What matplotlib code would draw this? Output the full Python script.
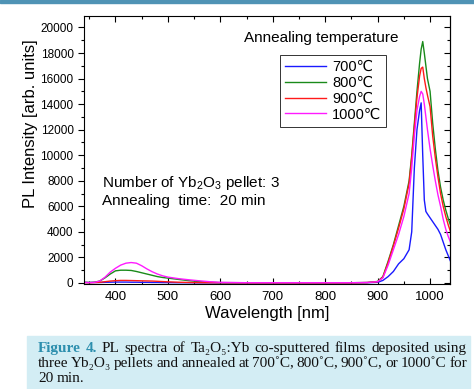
import matplotlib
matplotlib.use("Agg")
import matplotlib.pyplot as plt
from matplotlib.patches import Rectangle
from matplotlib.ticker import MultipleLocator

# wavelength grid (nm)
wavelength = [340, 350, 360, 370, 380, 390, 400, 410, 420, 430, 440, 450, 460, 470, 480, 490, 500,
              520, 540, 560, 580, 600,
              650, 700, 750, 800, 850, 880,
              900, 910, 920, 930, 940, 950, 960,
              965, 970, 975, 980, 983, 986, 989, 992, 995,
              1000, 1005, 1010, 1015, 1020, 1025, 1030, 1035, 1040]

pl_700 = [40, 30, 40, 40, 50, 60, 70, 70, 70, 60, 60, 50, 50, 40, 40, 30, 30,
          20, 20, 10, 10, 10,
          10, 10, 10, 10, 10, 20,
          50, 200, 500, 900, 1500, 1900, 2600,
          4000, 9000, 12000, 13500, 14100, 10000, 6500, 5600, 5400,
          5100, 4800, 4500, 4200, 3800, 3200, 2600, 2100, 1600]
pl_800 = [60, 40, 60, 150, 400, 700, 950, 1000, 1000, 980, 900, 800, 700, 600, 500, 430, 380,
          280, 180, 110, 60, 30,
          20, 20, 20, 20, 20, 40,
          120, 500, 1700, 3000, 4500, 6000, 8000,
          10000, 12500, 15000, 17200, 18300, 18900, 18000, 17000, 16000,
          15000, 12500, 10500, 8800, 7500, 6500, 5700, 5000, 4400]
pl_900 = [30, 20, 30, 50, 100, 150, 180, 200, 200, 190, 180, 170, 160, 150, 130, 110, 90,
          60, 40, 30, 20, 20,
          10, 10, 10, 10, 10, 30,
          100, 450, 1600, 2900, 4300, 5800, 7800,
          9800, 12200, 14500, 16200, 16800, 16900, 16000, 15300, 14700,
          13800, 11500, 9800, 8300, 7000, 6000, 5200, 4500, 3900]
pl_1000 = [50, 30, 50, 150, 450, 850, 1150, 1400, 1550, 1600, 1550, 1350, 1100, 880, 700, 560, 460,
           340, 250, 170, 100, 50,
           20, 20, 20, 20, 20, 40,
           100, 400, 1400, 2600, 3800, 5200, 7000,
           9000, 11500, 13500, 14600, 15000, 14800, 14000, 13000, 12000,
           10500, 9200, 8000, 6900, 6000, 5000, 4200, 3600, 3100]

series = [pl_700, pl_800, pl_900, pl_1000]
labels = ["700\u2103", "800\u2103", "900\u2103", "1000\u2103"]
colors = ["#1a1aff", "#1a8a1a", "#ff1a1a", "#ff1aff"]

caption_lines = [
    ["PL", "spectra", "of", "Ta\u2082O\u2085:Yb", "co-sputtered", "films", "deposited", "using"],
    ["three", "Yb\u2082O\u2083", "pellets", "and", "annealed", "at", "700\u02daC,", "800\u02daC,",
     "900\u02daC,", "or", "1000\u02daC", "for"],
    ["20", "min."],
]

plt.rcParams["font.family"] = ["Liberation Sans", "DejaVu Sans"]
plt.rcParams["mathtext.fontset"] = "custom"
plt.rcParams["mathtext.rm"] = "Liberation Sans"
plt.rcParams["mathtext.it"] = "Liberation Sans:italic"


def place_words(fig, renderer, words, x0, x1, y, justify=True):
    # put words on one line, stretching the gaps so the line fills x0..x1
    texts = []
    for w, kw in words:
        texts.append(fig.text(0, y, w, va="baseline", **kw))
    widths = [t.get_window_extent(renderer).width / fig.bbox.width for t in texts]
    if justify and len(texts) > 1:
        gap = (x1 - x0 - sum(widths)) / (len(texts) - 1)
    else:
        gap = 3 / fig.bbox.width
    x = x0
    for t, w in zip(texts, widths):
        t.set_x(x)
        x += w + gap


def main():
    fig = plt.figure(figsize=(4.74, 3.89), dpi=100)
    W, H = 474, 389

    # blue strip at the top of the page
    fig.patches.append(Rectangle((0, 1 - 2.5 / H), 1, 2.5 / H, transform=fig.transFigure,
                                 color="#4f93b5", zorder=0))
    # caption background
    fig.patches.append(Rectangle((27 / W, 0), 443 / W, 53 / H, transform=fig.transFigure,
                                 color="#d3edf4", zorder=0))

    ax = fig.add_axes([84 / W, 1 - 284 / H, 366 / W, 268 / H])
    for vals, lab, c in zip(series, labels, colors):
        ax.plot(wavelength, vals, color=c, lw=1.0, label=lab)

    ax.set_xlim(340, 1038)
    ax.set_ylim(-80, 20900)
    ax.xaxis.set_major_locator(MultipleLocator(100))
    ax.xaxis.set_minor_locator(MultipleLocator(50))
    ax.yaxis.set_major_locator(MultipleLocator(2000))
    ax.yaxis.set_minor_locator(MultipleLocator(1000))
    ax.tick_params(axis="x", which="both", direction="in", top=True, labelsize=9.5, pad=5)
    ax.tick_params(axis="y", which="both", direction="out", labelsize=8.5)
    ax.tick_params(which="major", length=4, width=0.8)
    ax.tick_params(which="minor", length=2.5, width=0.8)
    # right side ticks point inwards
    ax2 = ax.secondary_yaxis("right")
    ax2.yaxis.set_major_locator(MultipleLocator(2000))
    ax2.yaxis.set_minor_locator(MultipleLocator(1000))
    ax2.tick_params(which="both", direction="in", labelright=False)
    ax2.tick_params(which="major", length=4, width=0.8)
    ax2.tick_params(which="minor", length=2.5, width=0.8)

    ax.set_xlabel("Wavelength [nm]", fontsize=12, labelpad=2)
    ax.set_ylabel("PL Intensity [arb. units]", fontsize=12)
    ax.yaxis.set_label_coords(-0.125, 0.597)

    ax.text(0.437, 0.918, "Annealing temperature", transform=ax.transAxes, fontsize=11,
            va="center")
    ax.text(0.049, 0.377, "Number of Yb$_2$O$_3$ pellet: 3", transform=ax.transAxes,
            fontsize=11, va="center")
    ax.text(0.049, 0.31, "Annealing  time:  20 min", transform=ax.transAxes, fontsize=11,
            va="center")

    leg = ax.legend(loc="upper left", bbox_to_anchor=(0.536, 0.854), borderaxespad=0,
                    fontsize=10.5, handlelength=2.8, labelspacing=0.12, fancybox=False,
                    framealpha=1, edgecolor="#333333", borderpad=0.35, handletextpad=0.4)
    leg.get_frame().set_linewidth(0.7)

    # caption with justified lines
    renderer = fig.canvas.get_renderer()
    cap = dict(fontsize=11, family=["Liberation Serif", "DejaVu Serif"], color="#111111")
    first = [("Figure", dict(cap, weight="bold", color="#2d8fae")),
             ("4.", dict(cap, weight="bold", color="#2d8fae"))]
    first += [(w, cap) for w in caption_lines[0]]
    x0, x1 = 38 / W, 467 / W
    place_words(fig, renderer, first, x0, x1, 1 - 352 / H)
    place_words(fig, renderer, [(w, cap) for w in caption_lines[1]], x0, x1, 1 - 367 / H)
    place_words(fig, renderer, [(w, cap) for w in caption_lines[2]], x0, x1, 1 - 382 / H,
                justify=False)

    fig.savefig("out.png", dpi=100)


if __name__ == "__main__":
    main()
